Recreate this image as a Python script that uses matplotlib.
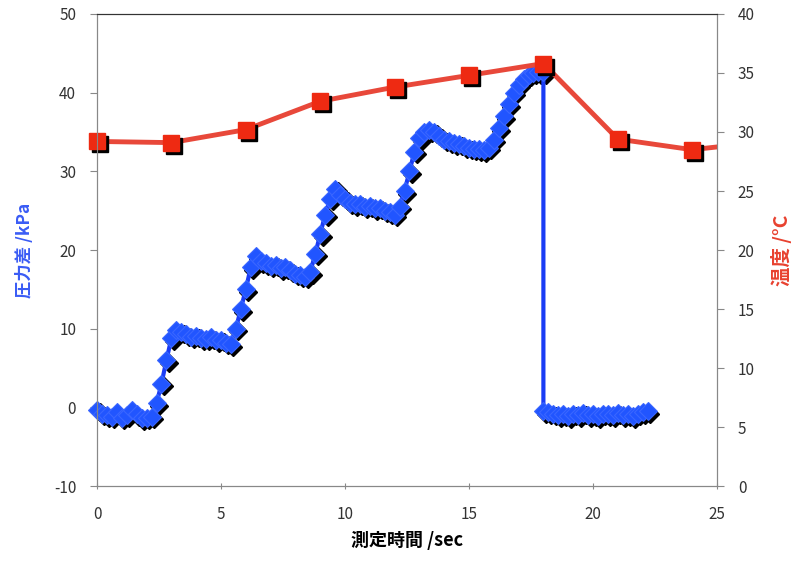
import matplotlib

matplotlib.use("Agg")

import matplotlib.pyplot as plt
import matplotlib.transforms as mtransforms

plt.rcParams["font.family"] = ["Liberation Sans Narrow", "Noto Sans CJK JP", "DejaVu Sans"]
plt.rcParams["axes.unicode_minus"] = False

# pressure difference (kPa) vs time (sec)
press_time = [
    0.0, 0.2, 0.4, 0.6, 0.8, 1.0, 1.2, 1.4, 1.6, 1.8, 2.0, 2.2, 2.4, 2.6, 2.8,
    3.0, 3.2, 3.4, 3.6, 3.8, 4.0, 4.2, 4.4, 4.6, 4.8, 5.0, 5.2, 5.4, 5.6, 5.8,
    6.0, 6.2, 6.4, 6.6, 6.8, 7.0, 7.2, 7.4, 7.6, 7.8, 8.0, 8.2, 8.4, 8.6, 8.8,
    9.0, 9.2, 9.4, 9.6, 9.8, 10.0, 10.2, 10.4, 10.6, 10.8, 11.0, 11.2, 11.4,
    11.6, 11.8, 12.0, 12.2, 12.4, 12.6, 12.8, 13.0, 13.2, 13.4, 13.6, 13.8,
    14.0, 14.2, 14.4, 14.6, 14.8, 15.0, 15.2, 15.4, 15.6, 15.8, 16.0, 16.2,
    16.4, 16.6, 16.8, 17.0, 17.2, 17.4, 17.6, 17.8, 18.0, 18.0, 18.2, 18.4,
    18.6, 18.8, 19.0, 19.2, 19.4, 19.6, 19.8, 20.0, 20.2, 20.4, 20.6, 20.8,
    21.0, 21.2, 21.4, 21.6, 21.8, 22.0, 22.2,
]
press_kpa = [
    -0.3, -0.8, -1.0, -1.2, -0.6, -1.3, -1.0, -0.4, -0.9, -1.4, -1.3, -1.2, 0.5, 3.0, 6.0,
    8.8, 9.8, 9.6, 9.3, 9.0, 9.1, 8.8, 8.7, 8.9, 8.5, 8.6, 8.2, 8.0, 10.0, 12.5,
    15.0, 17.8, 19.2, 18.6, 18.3, 18.0, 18.1, 17.7, 17.8, 17.4, 17.0, 16.8, 16.6, 17.2, 19.5,
    22.0, 24.5, 26.5, 27.8, 27.0, 26.5, 26.0, 25.8, 25.9, 25.5, 25.6, 25.3, 25.4,
    25.0, 24.8, 24.5, 25.5, 27.5, 30.0, 32.5, 34.2, 35.0, 35.2, 35.0, 34.5,
    34.0, 33.8, 33.6, 33.5, 33.2, 33.0, 32.9, 32.8, 32.7, 33.0, 34.0, 35.5,
    37.0, 38.5, 40.0, 41.0, 41.8, 42.3, 42.5, 42.6, 42.6, -0.5, -0.6, -0.8,
    -1.0, -0.9, -1.1, -0.8, -1.0, -0.7, -1.0, -0.9, -1.1, -0.8, -0.9, -1.0,
    -0.7, -1.0, -0.9, -1.1, -0.8, -0.6, -0.5,
]

# temperature (deg C)
temp_time = [0, 3, 6, 9, 12, 15, 18, 21, 24, 27]
temp_c = [29.2, 29.1, 30.2, 32.6, 33.8, 34.8, 35.8, 29.4, 28.5, 29.2]

BLUE = "#2155ff"
RED = "#ee2a12"

fig = plt.figure(figsize=(8.0, 5.62), dpi=100)
ax = fig.add_axes([0.12125, 0.1352, 0.775, 0.8399])
ax2 = ax.twinx()

shadow = mtransforms.offset_copy(ax.transData, fig=fig, x=2.5, y=-2.5, units="dots")
ax.plot(press_time, press_kpa, linestyle="none", marker="D", markersize=9.5,
        color="black", transform=shadow, clip_on=False)
ax.plot(press_time, press_kpa, color="#1a3cf5", linewidth=3, marker="D",
        markersize=9.5, markerfacecolor=BLUE, markeredgecolor="#3a66ff",
        markeredgewidth=0.8, clip_on=False)

shadow2 = mtransforms.offset_copy(ax2.transData, fig=fig, x=3, y=-3, units="dots")
ax2.plot(temp_time, temp_c, color="#e8483a", linewidth=3.5)
ax2.plot(temp_time[:-1], temp_c[:-1], linestyle="none", marker="s", markersize=12,
         color="black", transform=shadow2, clip_on=False)
ax2.plot(temp_time[:-1], temp_c[:-1], linestyle="none", marker="s", markersize=12,
         markerfacecolor=RED, markeredgecolor=RED, clip_on=False)

ax.set_xlim(0, 25)
ax.set_ylim(-10, 50)
ax2.set_ylim(0, 40)
ax.set_xticks([0, 5, 10, 15, 20, 25])
ax.set_yticks(range(-10, 51, 10))
ax2.set_yticks(range(0, 41, 5))

for a in (ax, ax2):
    for side in ("left", "right", "bottom"):
        a.spines[side].set_color("#888888")
    a.spines["top"].set_color("#333333")
ax.tick_params(axis="y", direction="out", length=5, color="#888888",
               labelsize=11, labelcolor="#333333", pad=10)
ax.tick_params(axis="x", direction="inout", length=5, color="#888888",
               labelsize=11, labelcolor="#333333", pad=12)
ax2.tick_params(axis="y", direction="out", length=5, color="#888888",
                labelsize=11, labelcolor="#333333", pad=10)

ax.set_xlabel("測定時間 /sec", fontsize=13, fontweight="bold", labelpad=6)
ax.set_ylabel("圧力差 /kPa", fontsize=12.5, fontweight="bold", color="#3a5cf5", labelpad=14)
ax2.set_ylabel("温度 /°C", fontsize=14, fontweight="bold", color="#e8412f", labelpad=12)

fig.savefig("out.png", dpi=100)
